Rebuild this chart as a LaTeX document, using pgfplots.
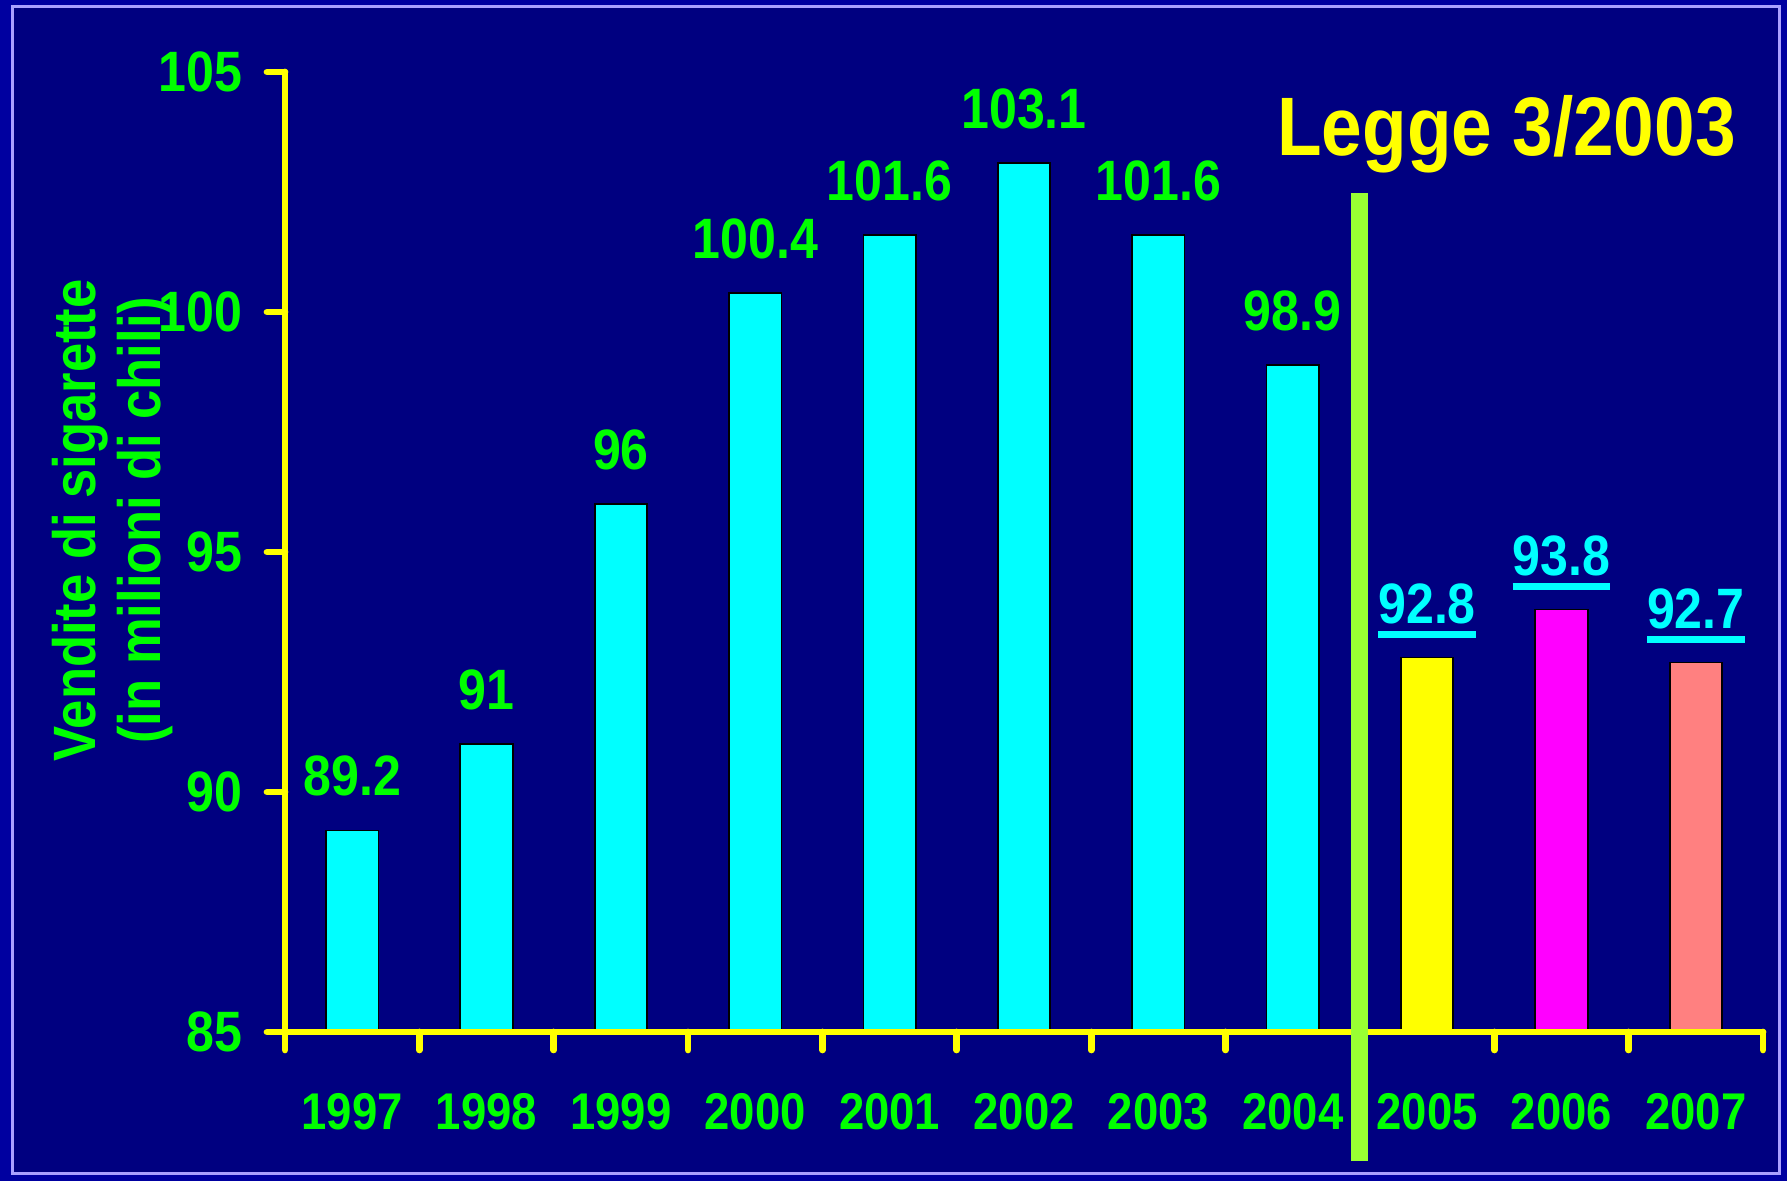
\documentclass[border=0pt]{standalone}
\usepackage{pgfplots}
\pgfplotsset{compat=1.18}
\usepackage{fontspec}
\setmainfont{Liberation Sans}[FakeStretch=0.88]

\definecolor{slideouter}{RGB}{0,0,160}
\definecolor{slidebg}{RGB}{0,0,128}
\definecolor{slideline}{RGB}{170,160,255}
\definecolor{labgreen}{RGB}{0,255,0}
\definecolor{lawgreen}{RGB}{153,255,51}
\definecolor{barcyan}{RGB}{0,255,255}
\definecolor{baryellow}{RGB}{255,255,0}
\definecolor{barmagenta}{RGB}{255,0,255}
\definecolor{salmonbar}{RGB}{255,128,128}

% value with a thick rule under it
\newcommand\ul[1]{\vbox{\hbox{#1}\kern2pt\hrule height 2pt}}

\begin{document}
\begin{tikzpicture}
\fill[slideouter] (0,0) rectangle (178.7mm,118.1mm);
\draw[slideline, fill=slidebg, line width=0.3mm] (1.2mm,0.7mm) rectangle (177.9mm,117.4mm);
\begin{axis}[
    at={(28.5mm,14.9mm)}, anchor=south west,
    scale only axis, width=147.8mm, height=96mm,
    xmin=-0.5, xmax=10.5, ymin=85, ymax=105,
    clip=false, axis on top,
    axis x line*=bottom, axis y line*=left,
    axis line style={baryellow, line width=0.67mm, line cap=round},
    x axis line style={-}, y axis line style={-},
    xtick={0,...,10},
    xticklabels={1997,1998,1999,2000,2001,2002,2003,2004,2005,2006,2007},
    minor xtick={-0.5,0.5,...,10.5},
    ytick={85,90,...,105},
    tick align=outside,
    major tick length=1.8mm, minor tick length=1.8mm,
    tick style={baryellow, line width=0.67mm, line cap=round},
    major x tick style={draw=none},
    /pgf/number format/assume math mode=true,
    yticklabel style={anchor=east, inner sep=0pt, xshift=-2.4mm, text=labgreen,
        font=\bfseries\fontsize{16.2}{16}\selectfont},
    xticklabel style={anchor=base, inner sep=0pt, yshift=-7.95mm, text=labgreen,
        font=\bfseries\fontsize{14.7}{15}\selectfont},
    ylabel={Vendite di sigarette\\(in milioni di chili)},
    ylabel style={at={(axis description cs:-0.1167,0.533)}, anchor=center,
        align=center, text=labgreen, font=\bfseries\fontsize{17}{18.4}\selectfont},
]
\addplot[ybar, bar width=0.39, bar shift=0pt, fill=barcyan, draw=black, line width=0.5pt,
    nodes near coords,
    nodes near coords style={anchor=south, inner sep=0pt, yshift=3.3mm, text=labgreen,
        font=\bfseries\fontsize{16.2}{16}\selectfont}]
    coordinates {(0,89.2) (1,91) (2,96) (3,100.4) (4,101.6) (5,103.1) (6,101.6) (7,98.9)};
\addplot[ybar, bar width=0.39, bar shift=0pt, fill=baryellow, draw=black, line width=0.5pt,
    nodes near coords={\ul{\pgfmathprintnumber{\pgfplotspointmeta}}},
    nodes near coords style={anchor=south, inner sep=0pt, yshift=1.86mm, text=barcyan,
        font=\bfseries\fontsize{16.2}{16}\selectfont}]
    coordinates {(8,92.8)};
\addplot[ybar, bar width=0.39, bar shift=0pt, fill=barmagenta, draw=black, line width=0.5pt,
    nodes near coords={\ul{\pgfmathprintnumber{\pgfplotspointmeta}}},
    nodes near coords style={anchor=south, inner sep=0pt, yshift=1.86mm, text=barcyan,
        font=\bfseries\fontsize{16.2}{16}\selectfont}]
    coordinates {(9,93.8)};
\addplot[ybar, bar width=0.39, bar shift=0pt, fill=salmonbar, draw=black, line width=0.5pt,
    nodes near coords={\ul{\pgfmathprintnumber{\pgfplotspointmeta}}},
    nodes near coords style={anchor=south, inner sep=0pt, yshift=1.86mm, text=barcyan,
        font=\bfseries\fontsize{16.2}{16}\selectfont}]
    coordinates {(10,92.7)};
\node[anchor=base west, inner sep=0pt, text=baryellow, font=\bfseries\fontsize{23.6}{24}\selectfont]
    at (axis cs:6.88,103.27) {Legge 3/2003};
\coordinate (lawtop) at (axis cs:7.5,102.48);
\coordinate (lawbot) at (axis cs:7.5,82.31);
\end{axis}
\draw[lawgreen, line width=1.7mm] (lawbot) -- (lawtop);
\end{tikzpicture}
\end{document}
